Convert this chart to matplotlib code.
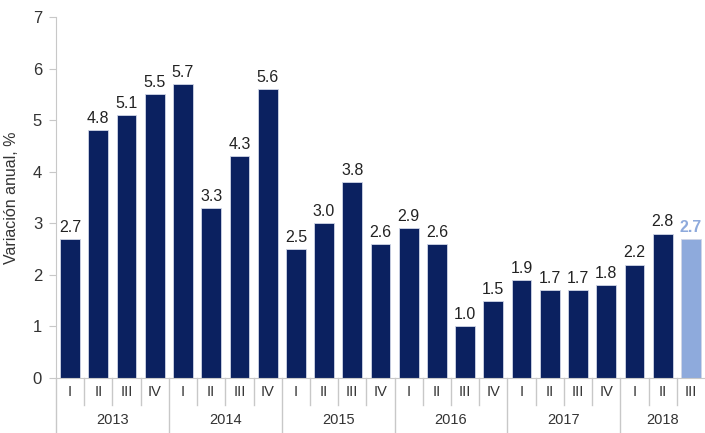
import matplotlib.pyplot as plt
from matplotlib.transforms import blended_transform_factory

plt.rcParams['font.family'] = ['Liberation Sans', 'DejaVu Sans']

# data
quarters = ["I", "II", "III", "IV"] * 5 + ["I", "II", "III"]
years = ["2013", "2014", "2015", "2016", "2017", "2018"]
values = [2.7, 4.8, 5.1, 5.5, 5.7, 3.3, 4.3, 5.6, 2.5, 3.0, 3.8, 2.6,
          2.9, 2.6, 1.0, 1.5, 1.9, 1.7, 1.7, 1.8, 2.2, 2.8, 2.7]
quarters_per_year = [4, 4, 4, 4, 4, 3]

navy = "#0b2160"
light = "#8eaadc"
grey = "#c8c8c8"

fig = plt.figure(figsize=(7.05, 4.33), dpi=100)
ax = fig.add_axes([56 / 705, 55 / 433, 649 / 705, 361 / 433])

x = list(range(len(values)))
colors = [navy] * (len(values) - 1) + [light]
ax.bar(x, values, width=0.7, color=colors, edgecolor="#d0d6e6", linewidth=0.6)

for i, v in enumerate(values):
    ax.text(i, v + 0.08, f"{v:.1f}", ha="center", va="bottom", fontsize=11.5,
            color=light if i == len(values) - 1 else "#222222",
            fontweight="bold" if i == len(values) - 1 else "normal")

ax.set_xlim(-0.5, 22.5)
ax.set_ylim(0, 7)
ax.set_yticks(range(8))
ax.tick_params(axis="y", labelsize=12, colors="#333333", length=5, color=grey, pad=5)
ax.tick_params(axis="x", length=0, labelbottom=False)
ax.set_ylabel("Variación anual, %", fontsize=11.5, color="#333333", labelpad=10)

for s in ["top", "right"]:
    ax.spines[s].set_visible(False)
ax.spines["left"].set_color(grey)
ax.spines["bottom"].set_color(grey)

trans = blended_transform_factory(ax.transData, ax.transAxes)

# quarter labels and separators
for i, q in enumerate(quarters):
    ax.text(i, -0.04, q, transform=trans, ha="center", va="center",
            fontsize=10.5, color="#333333")

year_bounds = [-0.5]
for n in quarters_per_year:
    year_bounds.append(year_bounds[-1] + n)

for k in range(len(values)):
    b = k - 0.5
    if b in year_bounds:
        ax.plot([b, b], [0, -0.16], transform=trans, color=grey, lw=1, clip_on=False)
    else:
        ax.plot([b, b], [0, -0.075], transform=trans, color=grey, lw=1, clip_on=False)

for j, yr in enumerate(years):
    mid = (year_bounds[j] + year_bounds[j + 1]) / 2
    ax.text(mid, -0.117, yr, transform=trans, ha="center", va="center",
            fontsize=10.5, color="#333333")

plt.savefig("out.png", dpi=100)
